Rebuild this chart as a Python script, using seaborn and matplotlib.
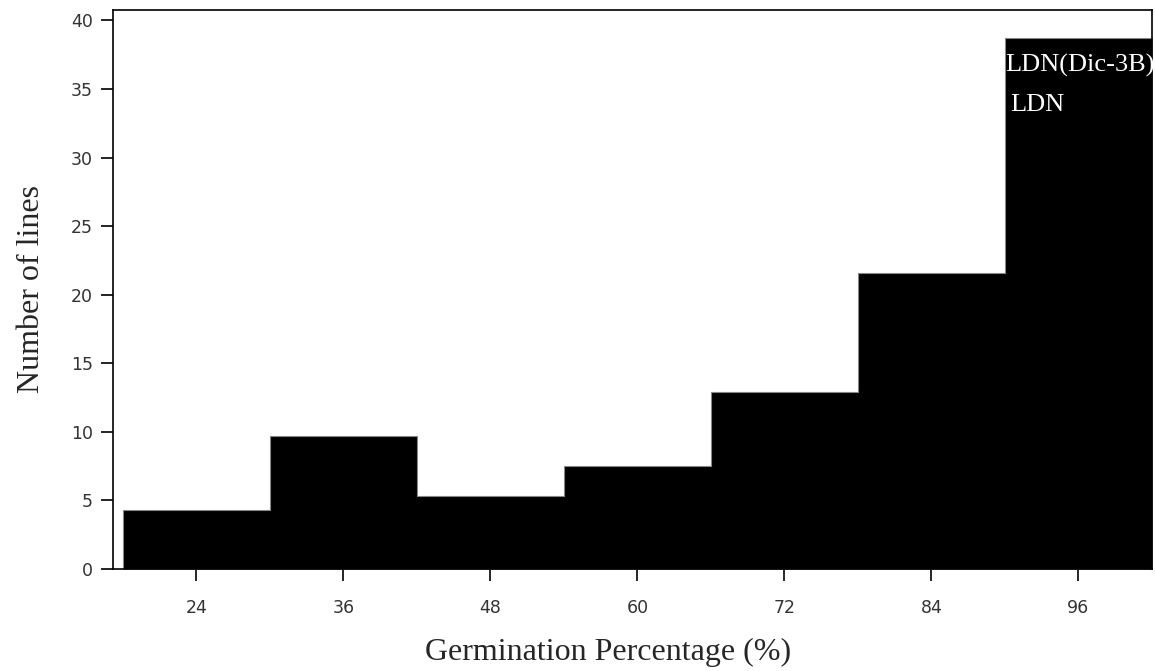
import matplotlib
matplotlib.use("Agg")
import matplotlib.pyplot as plt
import seaborn as sns
import numpy as np
import pandas as pd

# Germination percentage classes (bin centres) and number of lines in each
bin_centres = [24, 36, 48, 60, 72, 84, 96]
line_counts = [4.3, 9.7, 5.3, 7.5, 12.9, 21.6, 38.7]
bin_width = 12
x_ticks = [24, 36, 48, 60, 72, 84, 96]
y_ticks = [0, 5, 10, 15, 20, 25, 30, 35, 40]
labels_top_bar = ["LDN(Dic-3B)", "LDN"]

df = pd.DataFrame({"germination": bin_centres, "lines": line_counts})
edges = [c - bin_width / 2 for c in bin_centres] + [bin_centres[-1] + bin_width / 2]

sns.set_style("ticks")
plt.rcParams["font.family"] = ["DejaVu Sans"]

fig = plt.figure(figsize=(11.55, 6.71), dpi=100)
ax = fig.add_axes([113 / 1155, (671 - 569) / 671, (1152 - 113) / 1155, (569 - 9.5) / 671])

# Step histogram: filled black with a thin grey outline and no inner dividers
sns.histplot(data=df, x="germination", weights="lines", bins=edges, element="step",
             color="black", edgecolor="#888888", linewidth=0.8, alpha=1.0, ax=ax)

ax.set_xlim(17.2, 102)
ax.set_ylim(0, 40.8)
ax.set_xticks(x_ticks)
ax.set_yticks(y_ticks)
ax.tick_params(axis="both", direction="out", length=8.6, width=1.2, color="black",
               labelsize=12.5, labelcolor="#333333")
ax.tick_params(axis="x", pad=13)
ax.tick_params(axis="y", pad=6)
for s in ax.spines.values():
    s.set_visible(True)
    s.set_linewidth(1.2)
    s.set_color("black")

serif = ["Liberation Serif", "DejaVu Serif"]
ax.set_xlabel("Germination Percentage (%)", family=serif, fontsize=23, labelpad=15)
ax.xaxis.label.set_x(0.476)
ax.set_ylabel("Number of lines", family=serif, fontsize=23, labelpad=18)

ax.text(90.0, 36.7, labels_top_bar[0], family=serif, fontsize=19, color="white",
        ha="left", va="center")
ax.text(90.45, 33.85, labels_top_bar[1], family=serif, fontsize=19, color="white",
        ha="left", va="center")

fig.savefig("out.png", dpi=100)
